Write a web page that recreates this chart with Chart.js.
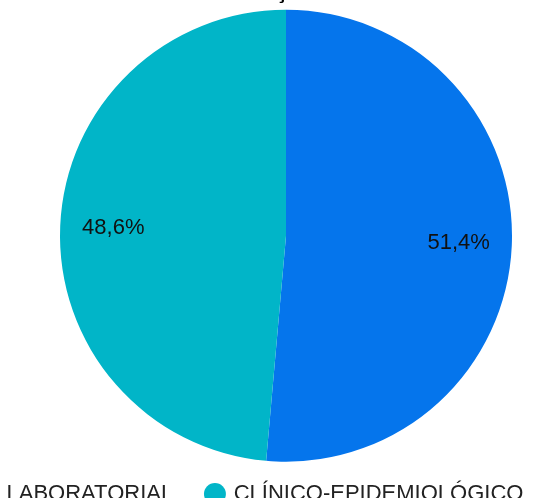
<!DOCTYPE html>
<html>
<head>
<meta charset="utf-8">
<script src="https://cdn.jsdelivr.net/npm/chart.js@4"></script>
<style>
    body { margin: 0; background: #fff; }
    #wrap { position: relative; width: 544px; height: 498px; overflow: hidden; }
    #box { position: absolute; left: -54px; top: -31px; width: 680px; height: 546px; }
</style>
</head>
<body>
<div id="wrap"><div id="box"><canvas id="pieChart"></canvas></div></div>
<script>
const categories = ['LABORATORIAL', 'CLÍNICO-EPIDEMIOLÓGICO'];
const percentages = [51.4, 48.6];
const sliceColors = ['#0575ec', '#01b5c8'];
const chartTitle = 'Critério de confirmação dos casos no ano';

// draws "51,4%" style text inside each slice
const sliceLabels = {
    id: 'sliceLabels',
    afterDatasetsDraw(chart) {
        const ctx = chart.ctx;
        const meta = chart.getDatasetMeta(0);
        ctx.save();
        ctx.font = '22px "Liberation Sans", Arial, sans-serif';
        ctx.fillStyle = '#111';
        ctx.textAlign = 'center';
        ctx.textBaseline = 'middle';
        meta.data.forEach((arc, i) => {
            const p = arc.getProps(['x', 'y', 'startAngle', 'endAngle', 'outerRadius'], true);
            const mid = (p.startAngle + p.endAngle) / 2;
            const r = p.outerRadius * 0.765;
            const txt = percentages[i].toFixed(1).replace('.', ',') + '%';
            ctx.fillText(txt, p.x + Math.cos(mid) * r, p.y + Math.sin(mid) * r);
        });
        ctx.restore();
    }
};

new Chart(document.getElementById('pieChart').getContext('2d'), {
    type: 'pie',
    data: {
        labels: categories,
        datasets: [{
            data: percentages,
            backgroundColor: sliceColors,
            borderWidth: 0,
            radius: 226
        }]
    },
    options: {
        responsive: true,
        maintainAspectRatio: false,
        animation: false,
        events: [],
        layout: { padding: 0 },
        plugins: {
            title: {
                display: true,
                text: chartTitle,
                color: '#000',
                font: { family: '"Liberation Sans", Arial, sans-serif', size: 22, weight: 'bold' },
                padding: { top: 10, bottom: 17 }
            },
            legend: {
                position: 'bottom',
                align: 'start',
                labels: {
                    usePointStyle: true,
                    pointStyle: 'circle',
                    boxWidth: 15.5,
                    boxHeight: 15.5,
                    padding: 34,
                    color: '#222',
                    font: { family: '"Liberation Sans", Arial, sans-serif', size: 22 }
                }
            },
            tooltip: { enabled: false }
        }
    },
    plugins: [sliceLabels]
});
</script>
</body>
</html>
